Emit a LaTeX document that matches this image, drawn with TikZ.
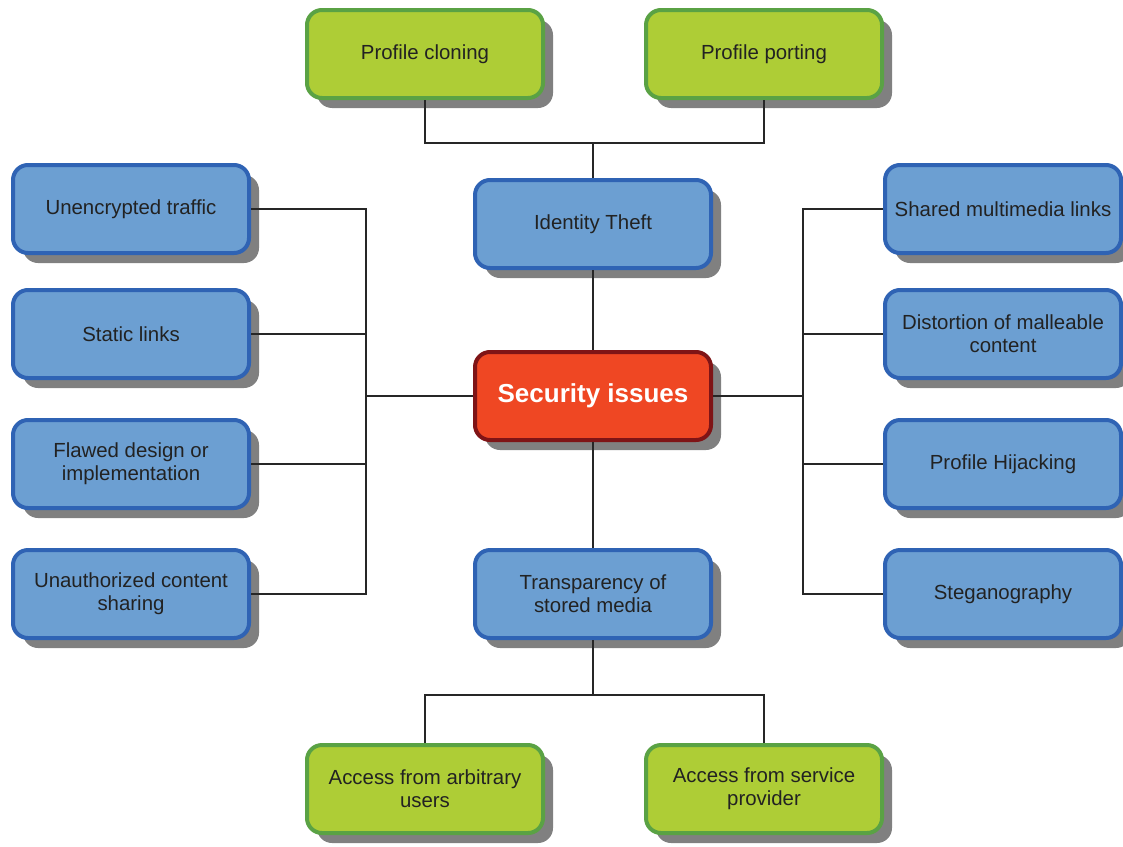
\documentclass[tikz,border=0pt]{standalone}
\usepackage{fontspec}
\setmainfont{Liberation Sans}
\usepackage{tikz}
\usetikzlibrary{shadows}

\definecolor{leaffill}{HTML}{AECD36}
\definecolor{leafline}{HTML}{5AA244}
\definecolor{topicfill}{HTML}{6C9FD2}
\definecolor{topicline}{HTML}{2F63B4}
\definecolor{corefill}{HTML}{EF4723}
\definecolor{coreline}{HTML}{7F1416}
\definecolor{textgray}{HTML}{222222}

\tikzset{
  issuebox/.style={rectangle, rounded corners=7.5pt, line width=2pt,
    minimum width=118pt, minimum height=44pt, align=center,
    text=textgray, font=\fontsize{10.2}{11.5}\selectfont,
    drop shadow={shadow xshift=5pt, shadow yshift=-5pt, fill=gray, opacity=1}},
  topic/.style={issuebox, draw=topicline, fill=topicfill},
  leaf/.style={issuebox, draw=leafline, fill=leaffill},
  core/.style={issuebox, draw=coreline, fill=corefill, text=white,
    font=\fontsize{13}{15}\selectfont\bfseries},
  link/.style={line width=1pt, black!85}
}

\begin{document}
\begin{tikzpicture}[x=0.5pt,y=-0.5pt]
	\useasboundingbox (0,0) rectangle (1123,846);

	\draw (593,396) node (security) [core] {Security issues};
	\draw (593,224) node (identity) [topic] {Identity Theft};
	\draw (593,594) node (transparency) [topic] {Transparency of\\stored media};
	\draw (425,54) node (cloning) [leaf] {Profile cloning};
	\draw (764,54) node (porting) [leaf] {Profile porting};
	\draw (425,789) node (arbitrary) [leaf] {Access from arbitrary\\users};
	\draw (764,789) node (provider) [leaf] {Access from service\\provider};

	\draw (131,209) node (traffic) [topic] {Unencrypted traffic};
	\draw (131,334) node (static) [topic] {Static links};
	\draw (131,464) node (flawed) [topic] {Flawed design or\\implementation};
	\draw (131,594) node (sharing) [topic] {Unauthorized content\\sharing};

	\draw (1003,209) node (multimedia) [topic] {Shared multimedia links};
	\draw (1003,334) node (malleable) [topic] {Distortion of malleable\\content};
	\draw (1003,464) node (hijacking) [topic] {Profile Hijacking};
	\draw (1003,594) node (stego) [topic] {Steganography};

	\coordinate (topjoin) at (593,143);
	\coordinate (bottomjoin) at (593,695);
	\coordinate (leftbus) at (366,396);
	\coordinate (rightbus) at (803,396);

	\draw[link] (cloning) |- (topjoin) -| (porting);
	\draw[link] (topjoin) -- (identity);
	\draw[link] (identity) -- (security);
	\draw[link] (security) -- (transparency);
	\draw[link] (transparency) -- (bottomjoin);
	\draw[link] (arbitrary) |- (bottomjoin) -| (provider);

	\draw[link] (security) -- (leftbus);
	\foreach \n in {traffic,static,flawed,sharing}
		\draw[link] (\n) -| (leftbus);
	\draw[link] (security) -- (rightbus);
	\foreach \n in {multimedia,malleable,hijacking,stego}
		\draw[link] (\n) -| (rightbus);
\end{tikzpicture}
\end{document}
